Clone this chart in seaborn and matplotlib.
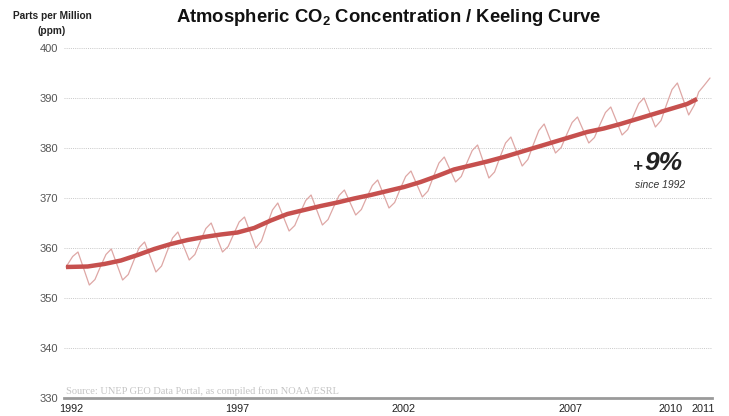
import matplotlib
matplotlib.use("Agg")
import matplotlib.pyplot as plt
import pandas as pd
import seaborn as sns

# smoothed trend (thick line)
trend_years = [1991.85, 1992.5, 1993.0, 1993.5, 1994.0, 1994.5, 1995.0, 1995.5,
               1996.0, 1996.5, 1997.0, 1997.5, 1998.0, 1998.5, 1999.0, 1999.5,
               2000.0, 2000.5, 2001.0, 2001.5, 2002.0, 2002.5, 2003.0, 2003.5,
               2004.0, 2004.5, 2005.0, 2005.5, 2006.0, 2006.5, 2007.0, 2007.5,
               2008.0, 2008.5, 2009.0, 2009.5, 2010.0, 2010.5, 2010.8]
trend_ppm = [356.2, 356.3, 356.8, 357.5, 358.6, 359.8, 360.8, 361.6,
             362.2, 362.7, 363.1, 364.0, 365.5, 366.8, 367.6, 368.4,
             369.1, 369.9, 370.6, 371.4, 372.2, 373.2, 374.4, 375.7,
             376.5, 377.3, 378.2, 379.2, 380.2, 381.2, 382.2, 383.2,
             383.9, 384.8, 385.8, 386.8, 387.8, 388.8, 389.8]

# seasonal record (thin line)
seasonal_years = [
    1991.85, 1992.05,
    1992.21, 1992.38, 1992.55, 1992.72, 1992.88, 1993.05,
    1993.21, 1993.38, 1993.55, 1993.72, 1993.88, 1994.05,
    1994.21, 1994.38, 1994.55, 1994.72, 1994.88, 1995.05,
    1995.21, 1995.38, 1995.55, 1995.72, 1995.88, 1996.05,
    1996.21, 1996.38, 1996.55, 1996.72, 1996.88, 1997.05,
    1997.21, 1997.38, 1997.55, 1997.72, 1997.88, 1998.05,
    1998.21, 1998.38, 1998.55, 1998.72, 1998.88, 1999.05,
    1999.21, 1999.38, 1999.55, 1999.72, 1999.88, 2000.05,
    2000.21, 2000.38, 2000.55, 2000.72, 2000.88, 2001.05,
    2001.21, 2001.38, 2001.55, 2001.72, 2001.88, 2002.05,
    2002.21, 2002.38, 2002.55, 2002.72, 2002.88, 2003.05,
    2003.21, 2003.38, 2003.55, 2003.72, 2003.88, 2004.05,
    2004.21, 2004.38, 2004.55, 2004.72, 2004.88, 2005.05,
    2005.21, 2005.38, 2005.55, 2005.72, 2005.88, 2006.05,
    2006.21, 2006.38, 2006.55, 2006.72, 2006.88, 2007.05,
    2007.21, 2007.38, 2007.55, 2007.72, 2007.88, 2008.05,
    2008.21, 2008.38, 2008.55, 2008.72, 2008.88, 2009.05,
    2009.21, 2009.38, 2009.55, 2009.72, 2009.88, 2010.05,
    2010.21, 2010.38, 2010.55, 2010.72, 2010.85, 2011.0, 2011.19]
seasonal_ppm = [
    356.2, 358.3,
    359.2, 355.9, 352.6, 353.7, 356.2, 358.7,
    359.8, 356.7, 353.6, 354.7, 357.4, 360.1,
    361.2, 358.2, 355.2, 356.4, 359.2, 362.0,
    363.2, 360.4, 357.6, 358.7, 361.3, 363.9,
    365.0, 362.1, 359.2, 360.3, 362.7, 365.2,
    366.2, 363.1, 360.0, 361.4, 364.5, 367.6,
    369.0, 366.2, 363.4, 364.5, 367.0, 369.5,
    370.6, 367.6, 364.6, 365.7, 368.1, 370.5,
    371.6, 369.1, 366.6, 367.7, 370.1, 372.5,
    373.6, 370.8, 368.0, 369.1, 371.7, 374.3,
    375.4, 372.8, 370.2, 371.4, 374.2, 377.0,
    378.2, 375.7, 373.2, 374.3, 376.9, 379.5,
    380.6, 377.3, 374.0, 375.2, 378.1, 381.0,
    382.2, 379.3, 376.4, 377.7, 380.6, 383.5,
    384.8, 381.9, 379.0, 380.1, 382.6, 385.1,
    386.2, 383.6, 381.0, 382.1, 384.6, 387.1,
    388.2, 385.4, 382.6, 383.7, 386.3, 388.9,
    390.0, 387.1, 384.2, 385.5, 388.6, 391.7,
    393.0, 389.8, 386.6, 388.6, 391.2, 392.4, 394.0]

ytick_vals = [330, 340, 350, 360, 370, 380, 390, 400]
xtick_years = [1992, 1997, 2002, 2007, 2010, 2011]

sns.set_theme(style="white")
plt.rcParams['font.family'] = ['Liberation Sans', 'DejaVu Sans']
plt.rcParams['mathtext.fontset'] = 'custom'
plt.rcParams['mathtext.rm'] = 'Liberation Sans'
plt.rcParams['mathtext.bf'] = 'Liberation Sans:bold'

W, H = 729, 416
fig = plt.figure(figsize=(W / 100, H / 100), dpi=100)
ax = fig.add_axes([64 / W, (H - 398) / H, 648 / W, 350 / H])

for v in ytick_vals[1:]:
    ax.axhline(v, color='#c8c8c8', lw=0.7, ls=(0, (1, 1.2)), zorder=0)

seasonal = pd.DataFrame({'year': seasonal_years, 'ppm': seasonal_ppm})
trend = pd.DataFrame({'year': trend_years, 'ppm': trend_ppm})
sns.lineplot(data=seasonal, x='year', y='ppm', color='#dea7a5', lw=0.9, ax=ax)
sns.lineplot(data=trend, x='year', y='ppm', color='#c6504e', lw=3.2, ax=ax,
             solid_capstyle='butt')

ax.set_xlim(1991.79, 2011.25)
ax.set_ylim(330, 400)
ax.set_xticks(xtick_years)
ax.set_xticklabels([str(y) for y in xtick_years])
ax.set_yticks(ytick_vals)
ax.set_yticklabels([str(v) for v in ytick_vals])
ax.set_xlabel('')
ax.set_ylabel('')
for s in ['top', 'right', 'left']:
    ax.spines[s].set_visible(False)
ax.spines['bottom'].set_color('#9a9a9a')
ax.spines['bottom'].set_linewidth(2)
ax.tick_params(axis='y', length=0, pad=4, labelsize=8, labelcolor='#555555')
ax.tick_params(axis='x', length=0, pad=4, labelsize=7.8, labelcolor='#222222')


def px(x, y):
    return x / W, 1 - y / H


fig.text(*px(389, 18), r"Atmospheric CO$_{\mathbf{2}}$ Concentration / Keeling Curve",
         ha='center', va='center', fontsize=13.3, weight='bold', color='#111111')
fig.text(*px(52, 16), "Parts per Million", ha='center', va='center',
         fontsize=7.3, weight='bold', color='#222222')
fig.text(*px(52, 31), "(ppm)", ha='center', va='center',
         fontsize=7.3, weight='bold', color='#222222')
fig.text(*px(66, 391), "Source: UNEP GEO Data Portal, as compiled from NOAA/ESRL",
         ha='left', va='center', fontsize=7.5, color='#c4c4c4',
         family='Liberation Serif')
fig.text(*px(643, 167), "+", ha='right', va='center', fontsize=12,
         weight='bold', style='italic', color='#222222')
fig.text(*px(644, 163), "9%", ha='left', va='center', fontsize=19,
         weight='bold', style='italic', color='#222222')
fig.text(*px(660, 185), "since 1992", ha='center', va='center', fontsize=7.5,
         style='italic', color='#333333')

fig.savefig("out.png", dpi=100)
